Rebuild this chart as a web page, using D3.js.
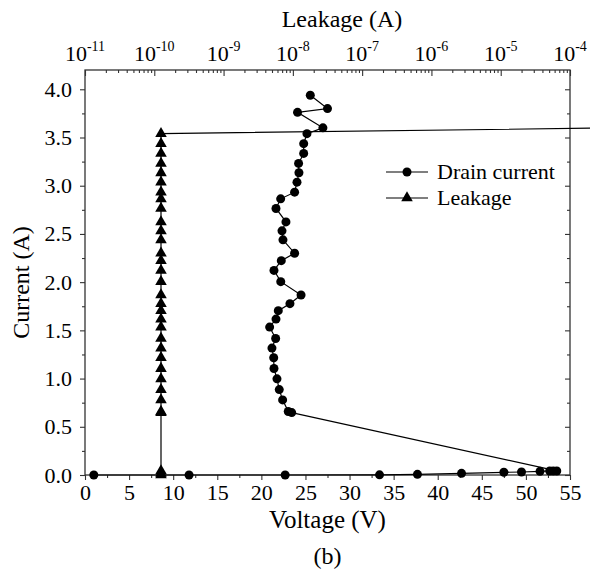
<!DOCTYPE html>
<html><head><meta charset="utf-8">
<script src="https://cdn.jsdelivr.net/npm/d3@7"></script>
<style>body{margin:0;background:#fff}svg{display:block}text{font-family:"Liberation Serif","Times New Roman",serif;fill:#000}</style>
</head><body>
<svg id="c" width="590" height="575"></svg>
<script>
// Drain current series (bottom voltage axis, left current axis)
const voltage = [1.0, 11.8, 22.7, 33.4, 37.7, 42.7, 47.5, 49.5, 51.6, 52.7, 53.1, 53.5,
  23.44, 23.05, 22.41, 22.03, 21.77, 21.43, 21.4, 21.2, 21.62, 20.94, 21.66, 21.92, 23.24, 24.5,
  22.2, 21.43, 22.26, 23.77, 22.45, 22.34, 22.79, 21.66, 22.19, 23.77, 24.04, 24.26, 24.22,
  24.8, 24.8, 25.17, 26.98, 24.1, 27.5, 25.55];
const drainCurrent = [0, 0, 0, 0.002, 0.007, 0.017, 0.028, 0.031, 0.038, 0.042, 0.042, 0.042,
  0.647, 0.658, 0.779, 0.886, 0.997, 1.104, 1.216, 1.316, 1.416, 1.534, 1.617, 1.704, 1.777, 1.867,
  2.005, 2.122, 2.223, 2.30, 2.439, 2.532, 2.625, 2.764, 2.864, 2.933, 3.037, 3.134, 3.231,
  3.335, 3.436, 3.54, 3.60, 3.761, 3.80, 3.938];
// Leakage series (top log axis, left current axis)
const leakage = [1.25e-10, 1.25e-10, 1.25e-10, 1.25e-10, 1.25e-10, 1.25e-10,
  1.25e-10, 1.25e-10, 1.25e-10, 1.25e-10, 1.25e-10, 1.25e-10, 1.25e-10, 1.25e-10,
  1.25e-10, 1.25e-10, 1.25e-10, 1.25e-10, 1.25e-10, 1.25e-10, 1.25e-10, 1.25e-10,
  1.25e-10, 1.25e-10, 1.25e-10, 1.25e-10, 1.25e-10, 1.25e-10, 1.25e-10, 1.25e-10,
  1.25e-10, 1.25e-10, 1.25e-10, 5e-4];
const leakCurrent = [0, 0.017, 0.042,
  0.647, 0.658, 0.779, 0.886, 0.997, 1.104, 1.216, 1.316, 1.416, 1.534, 1.617, 1.704, 1.777, 1.867,
  2.005, 2.122, 2.223, 2.30, 2.439, 2.532, 2.625, 2.764, 2.864, 2.933, 3.037, 3.134, 3.231,
  3.335, 3.436, 3.54, 3.60];
const voltTicks = [0, 5, 10, 15, 20, 25, 30, 35, 40, 45, 50, 55];
const currTicks = [0, 0.5, 1.0, 1.5, 2.0, 2.5, 3.0, 3.5, 4.0];
const leakExps = [-11, -10, -9, -8, -7, -6, -5, -4];
const legendLabels = ["Drain current", "Leakage"];

const L = 85, R = 570, T = 70, B = 475;
const svg = d3.select("#c");
const x = d3.scaleLinear().domain([0, 55]).range([L, R]);
const y = d3.scaleLinear().domain([0, 4.2]).range([B, T]);
const xt = d3.scaleLog().domain([1e-11, 1e-4]).range([L, R]);
const ink = "#000", axc = "#333";
const FONT = '"Liberation Serif","Times New Roman",serif';

// frame
svg.append("rect").attr("x", L).attr("y", T).attr("width", R - L).attr("height", B - T)
  .attr("fill", "none").attr("stroke", axc).attr("stroke-width", 1.3);

// bottom axis
svg.append("g").attr("transform", `translate(0,${B})`)
  .call(d3.axisBottom(x).tickValues(voltTicks).tickFormat(d3.format("d")).tickSize(5).tickPadding(4));
svg.append("g").attr("transform", `translate(0,${B})`)
  .call(d3.axisBottom(x).tickValues(d3.range(2.5, 55, 5)).tickFormat("").tickSize(3));
// left axis
svg.append("g").attr("transform", `translate(${L},0)`)
  .call(d3.axisLeft(y).tickValues(currTicks).tickFormat(d3.format(".1f")).tickSize(5).tickPadding(8));
svg.append("g").attr("transform", `translate(${L},0)`)
  .call(d3.axisLeft(y).tickValues(d3.range(0.25, 4.1, 0.5)).tickFormat("").tickSize(3));
// right axis (inward)
svg.append("g").attr("transform", `translate(${R},0)`)
  .call(d3.axisLeft(y).tickValues(currTicks).tickFormat("").tickSize(5));
svg.append("g").attr("transform", `translate(${R},0)`)
  .call(d3.axisLeft(y).tickValues(d3.range(0.25, 4.1, 0.5)).tickFormat("").tickSize(3));
// top axis (log, inward)
const minorLog = [];
leakExps.slice(0, -1).forEach(e => { for (let m = 2; m <= 9; m++) minorLog.push(m * Math.pow(10, e)); });
svg.append("g").attr("transform", `translate(0,${T})`)
  .call(d3.axisBottom(xt).tickValues(leakExps.map(e => Math.pow(10, e))).tickFormat("").tickSize(6));
svg.append("g").attr("transform", `translate(0,${T})`)
  .call(d3.axisBottom(xt).tickValues(minorLog).tickFormat("").tickSize(3));
leakExps.forEach(e => {
  const t = svg.append("text").attr("x", xt(Math.pow(10, e))).attr("y", 61)
    .attr("text-anchor", "middle").style("font-size", "22px").style("font-family", FONT);
  t.append("tspan").text("10");
  t.append("tspan").attr("dy", -10).style("font-size", "14px").text(String(e));
});

svg.selectAll(".domain").attr("stroke", "none");
svg.selectAll(".tick line").attr("stroke", axc).attr("stroke-width", 1.1);
svg.selectAll("g").attr("font-family", null).attr("font-size", null);
svg.selectAll(".tick text").style("font-size", "22px").attr("fill", ink).style("font-family", FONT);

// titles
svg.append("text").attr("x", 342).attr("y", 27).attr("text-anchor", "middle")
  .style("font-size", "24px").style("font-family", FONT).text("Leakage (A)");
svg.append("text").attr("x", (L + R) / 2).attr("y", 528).attr("text-anchor", "middle")
  .style("font-size", "25px").style("font-family", FONT).text("Voltage (V)");
svg.append("text").attr("x", (L + R) / 2).attr("y", 564).attr("text-anchor", "middle")
  .style("font-size", "24px").style("font-family", FONT).text("(b)");
svg.append("text").attr("transform", `translate(29,${(T + B) / 2 + 10}) rotate(-90)`)
  .attr("text-anchor", "middle").style("font-size", "24px").style("font-family", FONT).text("Current (A)");

// drain current
const dc = voltage.map((v, i) => [v, drainCurrent[i]]);
svg.append("path").datum(dc).attr("fill", "none").attr("stroke", ink).attr("stroke-width", 1.2)
  .attr("d", d3.line().x(d => x(d[0])).y(d => y(d[1])));
svg.selectAll(".dc").data(dc).join("circle").attr("cx", d => x(d[0])).attr("cy", d => y(d[1]))
  .attr("r", 4.5).attr("fill", ink);

// leakage
const lk = leakage.map((v, i) => [v, leakCurrent[i]]);
svg.append("path").datum(lk).attr("fill", "none").attr("stroke", ink).attr("stroke-width", 1.2)
  .attr("d", d3.line().x(d => xt(d[0])).y(d => y(d[1])));
const tri = d3.symbol().type(d3.symbolTriangle).size(58);
svg.selectAll(".lk").data(lk).join("path")
  .attr("transform", d => `translate(${xt(d[0])},${y(d[1])})`).attr("d", tri).attr("fill", ink);

// legend
const lg = svg.append("g");
legendLabels.forEach((lab, i) => {
  const yy = 172 + i * 26;
  lg.append("line").attr("x1", 386).attr("x2", 428).attr("y1", yy).attr("y2", yy)
    .attr("stroke", ink).attr("stroke-width", 1.2);
  if (i === 0) lg.append("circle").attr("cx", 407).attr("cy", yy).attr("r", 4.5).attr("fill", ink);
  else lg.append("path").attr("transform", `translate(407,${yy})`).attr("d", tri).attr("fill", ink);
  lg.append("text").attr("x", 437).attr("y", yy + 7).style("font-size", "22px").style("font-family", FONT).text(lab);
});
</script>
</body></html>
